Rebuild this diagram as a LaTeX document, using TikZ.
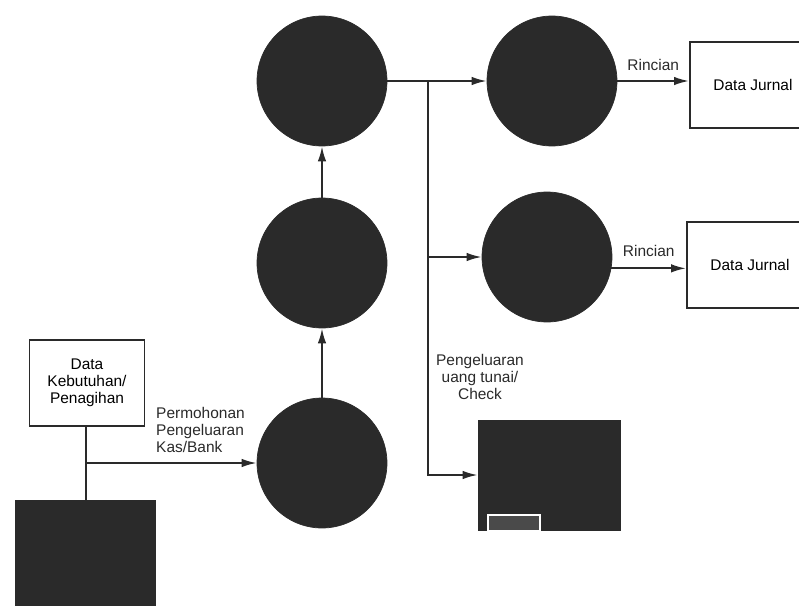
\documentclass[tikz,border=0pt]{standalone}
\usepackage{fontspec}
\setmainfont{Liberation Sans}
\usetikzlibrary{arrows.meta}
\usetikzlibrary{calc}

\definecolor{ink}{RGB}{42,42,42}
\tikzset{
  proses/.style={circle,fill=ink,draw=ink,minimum size=2.6cm,inner sep=0pt},
  entitas/.style={rectangle,draw=ink,line width=1.1pt,fill=white,font=\fontsize{8.8}{9.7}\selectfont,align=center},
  simpan/.style={rectangle,fill=ink,draw=ink,inner sep=0pt},
  alir/.style={line width=1.1pt,draw=ink},
  ket/.style={font=\fontsize{8.8}{9.7}\selectfont,text=ink}
}

\begin{document}
\begin{tikzpicture}[>={Latex[length=3mm,width=1.7mm]},x=0.02cm,y=-0.02cm]
    \useasboundingbox (0,0) rectangle (799,606);
    % proses
    \node[proses] (p1) at (322,81) {};
    \node[proses] (p2) at (322,263) {};
    \node[proses] (p3) at (322,463) {};
    \node[proses] (p4) at (552,81) {};
    \node[proses] (p5) at (547,257) {};
    % entitas dan data
    \node[entitas,minimum width=2.52cm,minimum height=1.72cm] (j1) at (753,85) {Data Jurnal};
    \node[entitas,minimum width=2.52cm,minimum height=1.72cm] (j2) at (750,265) {Data Jurnal};
    \node[entitas,minimum width=2.3cm,minimum height=1.72cm] (keb) at (87,383) {Data\\Kebutuhan/\\Penagihan};
    \node[simpan,minimum width=2.8cm,minimum height=2.4cm] (bank) at (85,560) {};
    \node[simpan,minimum width=2.84cm,minimum height=2.2cm] (kas) at (549,475) {};
    \draw[white,fill=ink!85!white,line width=0.8pt] (488,515) rectangle (540,531);
    % alur
    \coordinate (cab) at (428,81);
    \coordinate (fork) at (86,463);
    \draw[alir,->] (p3) -- (p2);
    \draw[alir,->] (p2) -- (p1);
    \draw[alir] (p1) -- (cab);
    \draw[alir,->] (cab) -- (p4);
    \draw[alir,->] (cab) |- (p5);
    \draw[alir,->] (cab) |- (kas);
    \draw[alir,->] (p4.east) -- (p4.east -| j1.west) node[ket,midway,above=2pt] {Rincian};
    \draw[alir,->] (p5.-10) -- (p5.-10 -| j2.west) node[ket,midway,above=3pt] {Rincian};
    \draw[alir] (keb.south -| fork) -- (bank.north -| fork);
    \draw[alir,->] (fork) -- (p3);
    \node[ket,anchor=west,align=left] (lbl1) at (150,430) {Permohonan\\Pengeluaran\\Kas/Bank};
    \node[ket,align=center] (lbl2) at (480,377) {Pengeluaran\\uang tunai/\\Check};
\end{tikzpicture}
\end{document}
